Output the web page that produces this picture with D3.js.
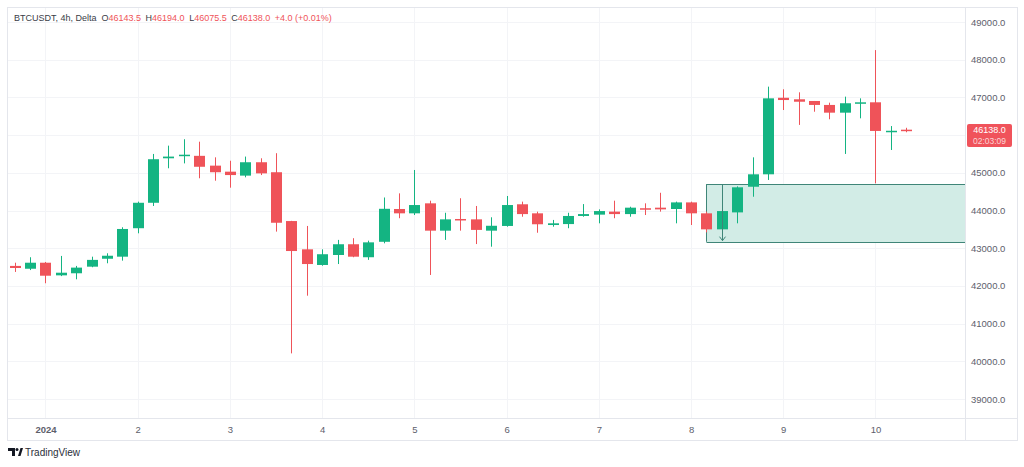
<!DOCTYPE html>
<html>
<head>
<meta charset="utf-8">
<script src="https://cdn.jsdelivr.net/npm/d3@7"></script>
<style>
  body { margin: 0; background: #fff; font-family: "Liberation Sans", Arial, sans-serif; }
</style>
</head>
<body>
<div id="chart"></div>
<script>
// BTCUSDT 4h candles, Dec 31 16:00 -> Jan 10 08:00
const opens  = [42530,42455,42615,42280,42335,42510,42720,42775,43530,44205,45385,45455,45450,45190,45030,44925,45280,45015,43720,42970,42555,42820,43105,42760,43170,44040,43925,44190,43465,43775,43765,43465,43590,44165,43925,43615,43640,43855,43890,43970,43905,44060,44075,44040,44215,43925,43500,43950,44630,44960,46990,46950,46905,46800,46595,46845,46870,46090,46143.5];
const highs  = [42615,42760,42635,42795,42530,42775,42865,43555,44235,45500,45720,45890,45825,45410,45320,45430,45385,45520,43725,43590,42970,43220,43265,43200,44345,44455,45075,44260,43940,44325,44120,43820,44385,44235,43970,43750,43940,44170,44030,44260,44100,44190,44470,44235,44235,43970,44680,44640,45410,47285,47215,47135,46905,46860,47020,46975,48255,46240,46194];
const lows   = [42370,42420,42070,42260,42175,42495,42600,42670,43395,44120,45120,45250,44855,44790,44605,44880,44940,43440,40210,41740,42535,42580,42760,42690,43130,43795,43880,42290,43220,43465,43110,43040,43570,43835,43410,43570,43530,43835,43660,43795,43835,43880,43970,43660,43615,43420,43220,43660,44365,44810,46665,46270,46620,46420,45500,46445,44720,45605,46075.5];
const closes = [42475,42615,42270,42350,42485,42690,42800,43510,44205,45360,45430,45480,45160,45015,44940,45280,44985,43675,42925,42580,42840,43105,42775,43155,44045,43925,44145,43465,43765,43740,43485,43595,44145,43905,43635,43660,43855,43905,43985,43905,44075,44030,44030,44215,43925,43500,43985,44615,44960,46975,46930,46885,46800,46595,46845,46870,46110,46115,46138];

const priceTicks = [39000,40000,41000,42000,43000,44000,45000,46000,47000,48000,49000];
const dayLabels = ["2024","2","3","4","5","6","7","8","9","10"];

// drawn zone (rectangle) and arrow
const zone = { startBar: 45, top: 44700, bottom: 43170 };
const arrow = { bar: 46, from: 44700, to: 43200 };

const header = { name: "BTCUSDT, 4h, Delta", o: "46143.5", h: "46194.0", l: "46075.5", c: "46138.0", chg: "+4.0 (+0.01%)" };
const lastLabel = { price: "46138.0", timer: "02:03:09" };

const up = "#14b482", down = "#ef5359";
const W = 1024, H = 467;
const plot = { left: 8, right: 965, top: 8, bottom: 418 };

const start = new Date(Date.UTC(2023, 11, 31, 16));
const dates = d3.utcHour.every(4).range(start, d3.utcHour.offset(start, 4 * opens.length));
const candles = dates.map((d, i) => ({ date: d, o: opens[i], h: highs[i], l: lows[i], c: closes[i] }));

const svg = d3.select("#chart").append("svg")
    .attr("width", W).attr("height", H)
    .style("font-family", '"Liberation Sans", Arial, sans-serif');

const x = d3.scaleUtc()
    .domain([d3.utcMinute.offset(start, -105), d3.utcMinute.offset(start, 247 * 60 + 18)])
    .range([plot.left, plot.right]);
const y = d3.scaleLinear().domain([39000, 49000]).range([399, 22]);

const days = d3.utcDay.range(d3.utcDay.ceil(start), d3.utcDay.offset(d3.utcDay.ceil(start), dayLabels.length));

// grid
svg.append("g").selectAll("line").data(priceTicks).join("line")
    .attr("x1", plot.left).attr("x2", plot.right)
    .attr("y1", d => Math.round(y(d)) + 0.5).attr("y2", d => Math.round(y(d)) + 0.5)
    .attr("stroke", "#f3f4f7");
svg.append("g").selectAll("line").data(days).join("line")
    .attr("y1", plot.top).attr("y2", plot.bottom)
    .attr("x1", d => Math.round(x(d)) + 0.5).attr("x2", d => Math.round(x(d)) + 0.5)
    .attr("stroke", "#f3f4f7");

// frame
svg.append("rect").attr("x", 7.5).attr("y", 7.5).attr("width", 1010).attr("height", 433)
    .attr("fill", "none").attr("stroke", "#e4e6ec");
svg.append("line").attr("x1", plot.right + 0.5).attr("x2", plot.right + 0.5)
    .attr("y1", 8).attr("y2", 440).attr("stroke", "#e4e6ec");
svg.append("line").attr("x1", 8).attr("x2", 1017)
    .attr("y1", plot.bottom + 0.5).attr("y2", plot.bottom + 0.5).attr("stroke", "#e4e6ec");

// zone
const zx = Math.round(x(dates[zone.startBar])) + 0.5;
svg.append("rect")
    .attr("x", zx).attr("y", Math.round(y(zone.top)) + 0.5)
    .attr("width", plot.right - zx).attr("height", y(zone.bottom) - y(zone.top))
    .attr("fill", "#d2ece6");
svg.append("g").selectAll("line").data([zone.top, zone.bottom]).join("line")
    .attr("x1", zx).attr("x2", plot.right)
    .attr("y1", d => Math.round(y(d)) + 0.5).attr("y2", d => Math.round(y(d)) + 0.5)
    .attr("stroke", "#3f8578");
svg.append("line").attr("x1", zx).attr("x2", zx)
    .attr("y1", y(zone.top)).attr("y2", y(zone.bottom)).attr("stroke", "#3f8578");

// candles
const bw = 11;
const g = svg.append("g");
g.selectAll("line").data(candles).join("line")
    .attr("x1", d => Math.round(x(d.date)) + 0.5).attr("x2", d => Math.round(x(d.date)) + 0.5)
    .attr("y1", d => y(d.h)).attr("y2", d => y(d.l))
    .attr("stroke", d => d.c >= d.o ? up : down);
g.selectAll("rect").data(candles).join("rect")
    .attr("x", d => Math.round(x(d.date)) - (bw - 1) / 2)
    .attr("width", bw)
    .attr("y", d => y(Math.max(d.o, d.c)))
    .attr("height", d => Math.max(1.5, Math.abs(y(d.o) - y(d.c))))
    .attr("fill", d => d.c >= d.o ? up : down);

// arrow
const ax = Math.round(x(dates[arrow.bar])) + 0.5;
svg.append("line").attr("x1", ax).attr("x2", ax)
    .attr("y1", y(arrow.from)).attr("y2", y(arrow.to))
    .attr("stroke", "#3f8578");
svg.append("path")
    .attr("d", `M${ax - 3},${y(arrow.to) - 4}L${ax},${y(arrow.to)}L${ax + 3},${y(arrow.to) - 4}`)
    .attr("fill", "none").attr("stroke", "#3f8578");

// price axis (ticks under the last-price label are hidden, as in TradingView)
const last = closes[closes.length - 1];
const ly = y(last);
const visibleTicks = priceTicks.filter(t => Math.abs(y(t) - (ly + 5)) > 14);
svg.append("g")
    .attr("transform", `translate(${plot.right},0)`)
    .call(d3.axisRight(y).tickValues(visibleTicks).tickFormat(d3.format(".1f")).tickSize(0).tickPadding(6))
    .call(a => a.select(".domain").remove())
    .call(a => a.selectAll("text").attr("fill", "#5d606b").style("font-size", "9.5px").style("font-family", '"Liberation Sans", Arial, sans-serif'));

// last price label
svg.append("rect").attr("x", 967).attr("y", ly - 6).attr("width", 45).attr("height", 23)
    .attr("rx", 2).attr("fill", "#f0535b");
svg.append("text").attr("x", 989.5).attr("y", ly + 3.5).attr("text-anchor", "middle")
    .attr("fill", "#fff").style("font-size", "9px").text(lastLabel.price);
svg.append("text").attr("x", 989.5).attr("y", ly + 14).attr("text-anchor", "middle")
    .attr("fill", "#fbd5d7").style("font-size", "8.5px").text(lastLabel.timer);

// time axis
svg.append("g")
    .attr("transform", `translate(0,${plot.bottom})`)
    .call(d3.axisBottom(x).tickValues(days).tickFormat((d, i) => dayLabels[i]).tickSize(0).tickPadding(8))
    .call(a => a.select(".domain").remove())
    .call(a => a.selectAll("text").attr("fill", "#5d606b").style("font-size", "9.5px")
        .style("font-family", '"Liberation Sans", Arial, sans-serif')
        .style("font-weight", (d, i) => i === 0 ? "bold" : "normal"));

// header
const ht = svg.append("text").attr("x", 14).attr("y", 21).style("font-size", "9px");
ht.append("tspan").attr("fill", "#3a3d47").text(header.name);
[["O", header.o], ["H", header.h], ["L", header.l], ["C", header.c]].forEach(([k, v], i) => {
    ht.append("tspan").attr("dx", i === 0 ? 5 : 4.5).attr("fill", "#3a3d47").text(k);
    ht.append("tspan").attr("fill", "#ef5359").text(v);
});
ht.append("tspan").attr("dx", 4.5).attr("fill", "#ef5359").text(header.chg);

// TradingView logo
const logo = svg.append("g").attr("fill", "#131722");
logo.append("path").attr("d", "M8,448h7v8h-3v-5h-4z");
logo.append("circle").attr("cx", 17).attr("cy", 449.5).attr("r", 1.5);
logo.append("path").attr("d", "M18,456l2.5,-8h2.5l-2.5,8z");
svg.append("text").attr("x", 25).attr("y", 456).attr("fill", "#2a2e39")
    .style("font-size", "10px").text("TradingView");
</script>
</body>
</html>
